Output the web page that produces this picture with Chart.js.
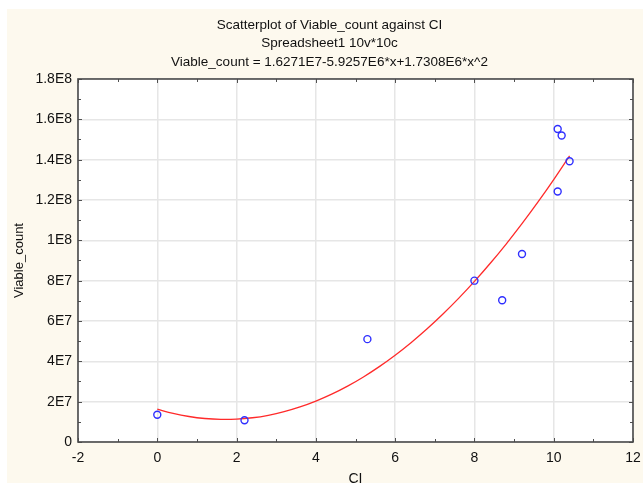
<!DOCTYPE html>
<html>
<head>
<meta charset="utf-8">
<script src="https://cdn.jsdelivr.net/npm/chart.js@4"></script>
<style>
html, body { margin: 0; padding: 0; background: #fff; }
#wrap { width: 643px; height: 483px; }
</style>
</head>
<body>
<div id="wrap"><canvas id="myChart" width="643" height="483"></canvas></div>
<script>
// observed points (CI, Viable_count)
var ciValues = [0, 2.2, 5.3, 8.0, 8.7, 9.2, 10.1, 10.2, 10.4, 10.1];
var viableCounts = [1.35e7, 1.08e7, 5.1e7, 8.0e7, 7.03e7, 9.32e7, 1.552e8, 1.52e8, 1.392e8, 1.242e8];

// quadratic fit printed in the title: a + b*x + c*x^2
var fitCoef = [1.6271e7, -5.9257e6, 1.7308e6];
var fitX = [0, 0.4, 0.8, 1.2, 1.6, 2.0, 2.4, 2.8, 3.2, 3.6, 4.0, 4.4, 4.8, 5.2, 5.6,
            6.0, 6.4, 6.8, 7.2, 7.6, 8.0, 8.4, 8.8, 9.2, 9.6, 10.0, 10.4];

var titleLines = [
  "Scatterplot of Viable_count against CI",
  "Spreadsheet1 10v*10c",
  "Viable_count = 1.6271E7-5.9257E6*x+1.7308E6*x^2"
];
var xTicks = [-2, 0, 2, 4, 6, 8, 10, 12];
var yTicks = [0, 2e7, 4e7, 6e7, 8e7, 1e8, 1.2e8, 1.4e8, 1.6e8, 1.8e8];

var pointData = ciValues.map(function (x, i) { return { x: x, y: viableCounts[i] }; });
var fitData = fitX.map(function (x) {
  return { x: x, y: fitCoef[0] + fitCoef[1] * x + fitCoef[2] * x * x };
});

function sciLabel(v) {
  if (v === 0) return "0";
  var e = Math.floor(Math.log10(v) + 1e-9);
  var m = Math.round(v / Math.pow(10, e) * 10) / 10;
  return m + "E" + e;
}

var FONT = "'Liberation Sans', Arial, sans-serif";
var PAD_LEFT = 26;

var frame = {
  id: "frame",
  beforeDraw: function (chart) {
    var c = chart.ctx, a = chart.chartArea;
    c.save();
    c.fillStyle = "#ffffff";
    c.fillRect(0, 0, chart.width, chart.height);
    c.fillStyle = "#fdf9ee";
    c.fillRect(7, 9, chart.width - 7, chart.height - 9);
    c.fillStyle = "#ffffff";
    c.fillRect(a.left, a.top, a.right - a.left, a.bottom - a.top);
    c.restore();
  },
  beforeDatasetsDraw: function (chart) {
    var c = chart.ctx, a = chart.chartArea;
    var xs = chart.scales.x, ys = chart.scales.y;
    c.save();
    c.strokeStyle = "#505050";
    c.lineWidth = 1;
    c.beginPath();
    for (var v = -2; v <= 12; v += 1) {
      var px = Math.round(xs.getPixelForValue(v)) + 0.5;
      var len = v % 2 === 0 ? 4 : 3;
      c.moveTo(px, a.bottom); c.lineTo(px, a.bottom - len);
      c.moveTo(px, a.top); c.lineTo(px, a.top + len);
    }
    for (var k = 0; k <= 18; k++) {
      var py = Math.round(ys.getPixelForValue(k * 1e7)) + 0.5;
      var l2 = k % 2 === 0 ? 4 : 3;
      c.moveTo(a.left, py); c.lineTo(a.left + l2, py);
      c.moveTo(a.right, py); c.lineTo(a.right - l2, py);
    }
    c.stroke();
    c.lineWidth = 1.6;
    c.strokeStyle = "#4a4a4a";
    c.strokeRect(a.left, a.top, a.right - a.left, a.bottom - a.top);
    c.restore();
  }
};

var ctx = document.getElementById("myChart").getContext("2d");
var chart = new Chart(ctx, {
  type: "scatter",
  data: {
    datasets: [
      {
        label: "Viable_count",
        data: pointData,
        pointStyle: "circle",
        pointRadius: 3.5,
        pointBorderWidth: 1.4,
        borderColor: "#2f2fff",
        backgroundColor: "rgba(0,0,0,0)",
        showLine: false
      },
      {
        label: "fit",
        type: "line",
        data: fitData,
        borderColor: "#ff2a2a",
        borderWidth: 1.3,
        pointRadius: 0,
        tension: 0.4,
        fill: false
      }
    ]
  },
  options: {
    responsive: false,
    devicePixelRatio: 1,
    animation: false,
    layout: { padding: { top: 0, right: 10, bottom: 0, left: PAD_LEFT } },
    plugins: {
      legend: { display: false },
      tooltip: { enabled: false },
      title: {
        display: true,
        text: titleLines,
        color: "#111",
        font: { family: FONT, size: 13.5, weight: "normal", lineHeight: 1.37 },
        padding: { top: 16, bottom: 7.5 }
      }
    },
    scales: {
      x: {
        type: "linear",
        min: -2,
        max: 12,
        afterBuildTicks: function (s) { s.ticks = xTicks.map(function (v) { return { value: v }; }); },
        afterFit: function (s) { s.height = 41; s.paddingLeft = 0; s.paddingRight = 0; },
        grid: { color: "#e6e6e6", lineWidth: 1.5, drawTicks: false },
        border: { display: false },
        ticks: { color: "#111", padding: 8, maxRotation: 0, font: { family: FONT, size: 14 } },
        title: {
          display: true,
          text: "CI",
          color: "#111",
          font: { family: FONT, size: 14, lineHeight: 1 },
          padding: { top: 0, bottom: -3 }
        }
      },
      y: {
        type: "linear",
        min: 0,
        max: 1.8e8,
        afterBuildTicks: function (s) { s.ticks = yTicks.map(function (v) { return { value: v }; }); },
        afterFit: function (s) { s.width = 78 - PAD_LEFT; },
        grid: { color: "#e6e6e6", lineWidth: 1.5, drawTicks: false },
        border: { display: false },
        ticks: {
          color: "#111",
          padding: 6,
          font: { family: FONT, size: 14 },
          callback: function (v) { return sciLabel(v); }
        },
        title: {
          display: true,
          text: "Viable_count",
          color: "#111",
          font: { family: FONT, size: 13, lineHeight: 1.2 },
          padding: { top: -14, bottom: 0 }
        }
      }
    }
  },
  plugins: [frame]
});
</script>
</body>
</html>
